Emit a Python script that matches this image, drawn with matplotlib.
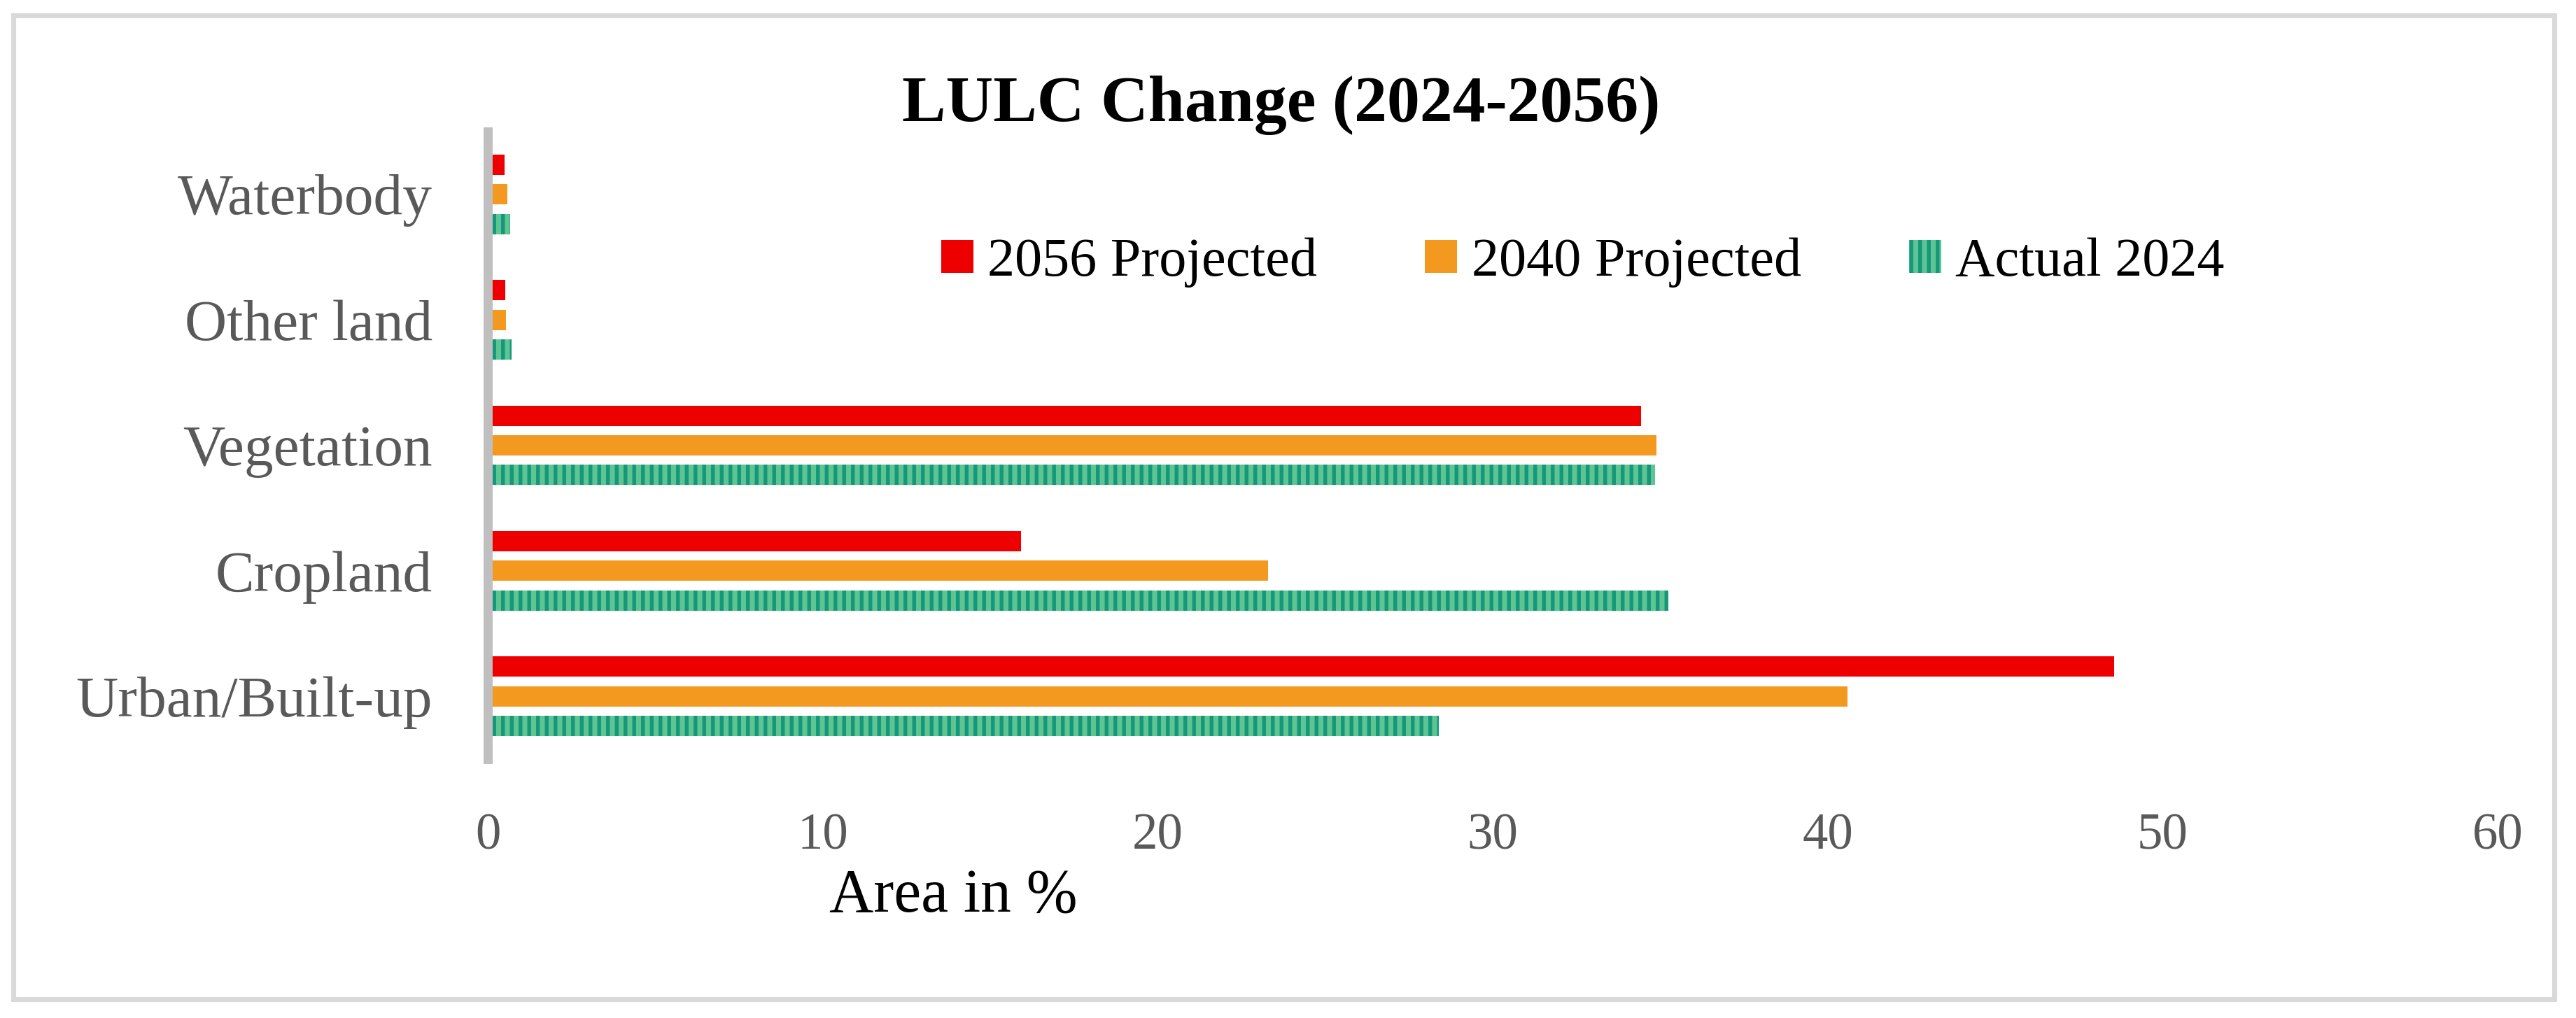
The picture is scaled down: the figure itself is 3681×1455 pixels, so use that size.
import matplotlib
matplotlib.use("Agg")
import matplotlib.pyplot as plt
from matplotlib.patches import Rectangle

# values (area in %)
categories = ["Urban/Built-up", "Cropland", "Vegetation", "Other land", "Waterbody"]
projected_2056 = [48.55, 15.92, 34.43, 0.52, 0.50]
projected_2040 = [40.6, 23.29, 34.88, 0.54, 0.58]
actual_2024 = [28.4, 35.24, 34.85, 0.72, 0.67]
x_ticks = [0, 10, 20, 30, 40, 50, 60]

plt.rcParams['font.family'] = ['Liberation Serif', 'DejaVu Serif']
plt.rcParams['hatch.linewidth'] = 2.6

W, H, DPI = 3681, 1455, 150
fig = plt.figure(figsize=(W / DPI, H / DPI), dpi=DPI)
ax = fig.add_axes([697 / W, 1 - 1085 / H, (3569 - 697) / W, (1085 - 188) / H])

pos = list(range(len(categories)))
bar_h = 0.162
off = 0.236

b1 = ax.barh([p + off for p in pos], projected_2056, height=bar_h,
             color='#EE0000', label='2056 Projected')
b2 = ax.barh(pos, projected_2040, height=bar_h,
             color='#F4991F', label='2040 Projected')
b3 = ax.barh([p - off for p in pos], actual_2024, height=bar_h,
             color='#5CC593', edgecolor='#17977A', linewidth=0, hatch='||',
             label='Actual 2024')

ax.set_xlim(0, 60)
ax.set_ylim(-0.5, 4.5)
ax.set_xticks(x_ticks)
ax.set_yticks(pos)
ax.set_yticklabels(categories)

for s in ['top', 'right', 'bottom']:
    ax.spines[s].set_visible(False)
ax.spines['left'].set_color('#BFBFBF')
ax.spines['left'].set_linewidth(6.2)

ax.tick_params(axis='both', length=0, colors='#595959')
ax.tick_params(axis='y', labelsize=40, pad=38)
ax.tick_params(axis='x', labelsize=35, pad=37)

fig.legend(handles=[b1, b2, b3], loc='center left',
           bbox_to_anchor=(1345 / W, 1 - 375 / H), ncol=3, frameon=False,
           fontsize=37.5, handlelength=0.59, handleheight=0.546,
           handletextpad=0.26, columnspacing=1.97, borderpad=0,
           borderaxespad=0)

fig.text(1831 / W, 1 - 173 / H, "LULC Change (2024-2056)", ha='center',
         va='baseline', fontsize=45, fontweight='bold')
fig.text(1185 / W, 1 - 1303 / H, "Area in %", ha='left', va='baseline',
         fontsize=42, color='black')

# light grey frame round the chart
fig.patches.append(Rectangle((19 / W, 1 - 1428 / H), (3650 - 19) / W,
                             (1428 - 22) / H, transform=fig.transFigure,
                             fill=False, edgecolor='#D9D9D9', linewidth=3.4))

fig.savefig('out.png', dpi=DPI)
